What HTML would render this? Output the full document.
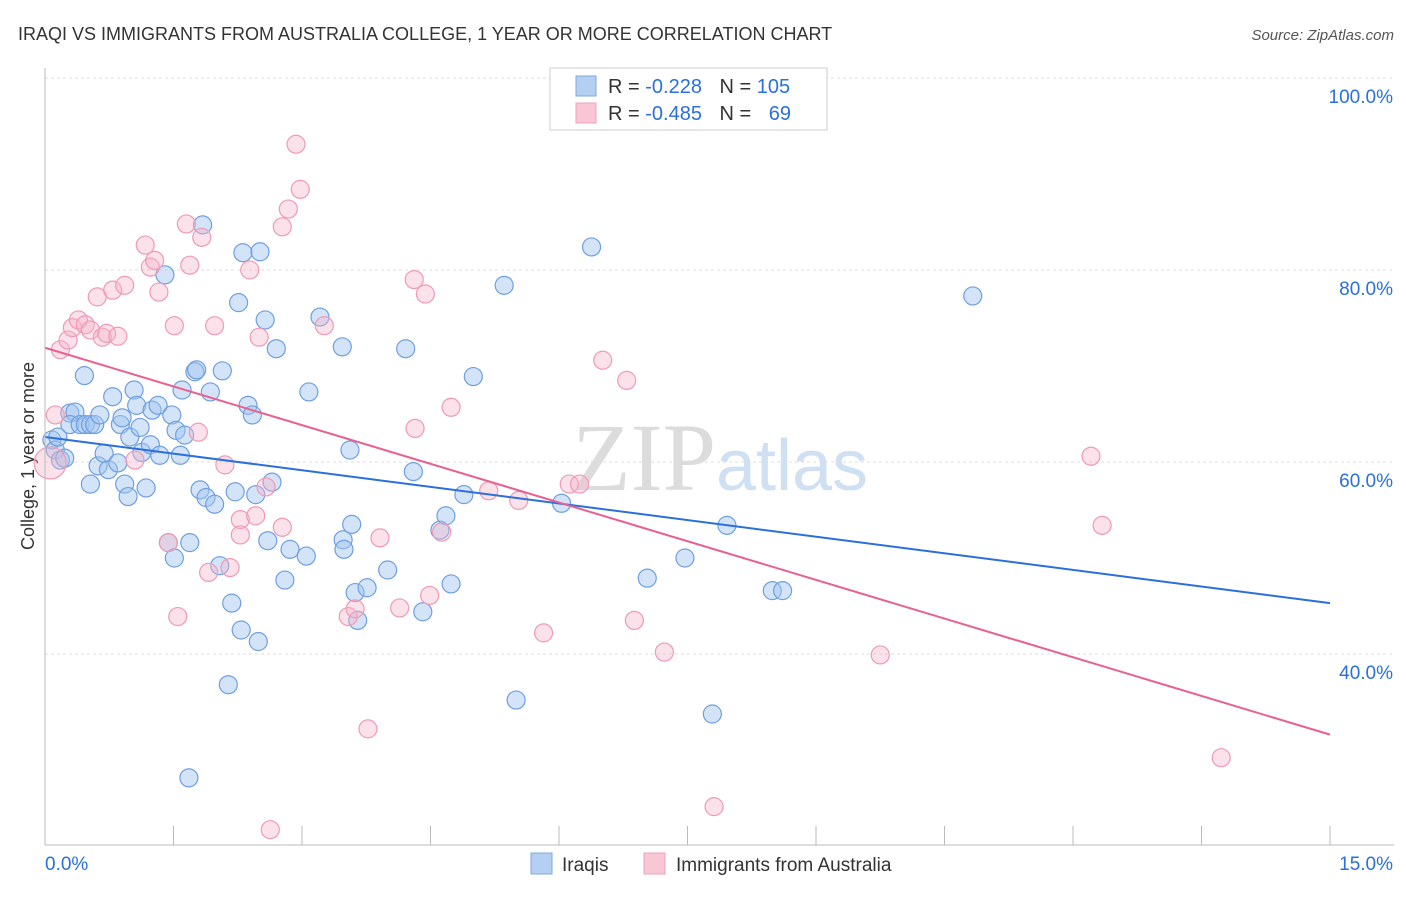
<!DOCTYPE html>
<html><head><meta charset="utf-8"><style>
body{margin:0;background:#fff;font-family:"Liberation Sans",sans-serif;}
svg text{font-family:"Liberation Sans",sans-serif;}
</style></head><body>
<svg id="chart" width="1406" height="892">
<text x="18" y="40" font-size="18" fill="#333">IRAQI VS IMMIGRANTS FROM AUSTRALIA COLLEGE, 1 YEAR OR MORE CORRELATION CHART</text>
<text x="1394" y="40" font-size="15" fill="#555" font-style="italic" text-anchor="end">Source: ZipAtlas.com</text>
<text transform="translate(34,456) rotate(-90)" font-size="18" fill="#333" text-anchor="middle">College, 1 year or more</text>
<g id="grid"></g>
<text x="720" y="490" font-size="96" fill="#e4e4e4" text-anchor="middle" font-family="Liberation Serif"><tspan fill="#dcdcdc" font-family="Liberation Serif">ZIP</tspan><tspan fill="#cfe0f3" font-family="Liberation Sans" font-size="72">atlas</tspan></text>
<g id="pts"></g>
<g id="lines"></g>
<g id="axes"></g>
<g>
<rect x="550" y="68" width="277" height="62" fill="#fff" stroke="#ccc"/>
<rect x="576" y="76" width="20" height="20" fill="#b5cff2" stroke="#7ea8e0"/>
<rect x="576" y="103" width="20" height="20" fill="#f9c6d6" stroke="#eea0b9"/>
<text x="608" y="93" font-size="20" fill="#333">R = <tspan fill="#2a6fdb">-0.228</tspan>  <tspan dx="12">N = </tspan><tspan fill="#2a6fdb">105</tspan></text>
<text x="608" y="120" font-size="20" fill="#333">R = <tspan fill="#2a6fdb">-0.485</tspan>  <tspan dx="12">N = </tspan><tspan fill="#2a6fdb" dx="12">69</tspan></text>
</g>
<g>
<rect x="531" y="853" width="21" height="21" fill="#b5cff2" stroke="#7ea8e0"/>
<text x="562" y="871" font-size="19" fill="#333">Iraqis</text>
<rect x="644" y="853" width="21" height="21" fill="#f9c6d6" stroke="#eea0b9"/>
<text x="676" y="871" font-size="19" fill="#333">Immigrants from Australia</text>
</g>
</svg>
<script>
const blueX=[0.08,0.12,0.18,0.15,0.23,0.29,0.35,0.29,0.41,0.47,0.53,0.58,0.46,0.53,0.62,0.64,0.69,0.74,0.79,0.85,0.88,0.90,0.93,0.97,0.99,1.04,1.07,1.11,1.13,1.18,1.23,1.25,1.32,1.34,1.40,1.44,1.48,1.51,1.53,1.58,1.60,1.63,1.69,1.75,1.77,1.81,1.84,1.88,1.93,1.98,2.04,2.07,2.14,2.18,2.22,2.26,2.29,2.31,2.37,2.42,2.46,2.49,2.51,2.57,2.60,2.65,2.70,2.80,2.86,3.05,3.08,3.21,3.47,3.48,3.49,3.56,3.58,3.62,3.65,3.76,4.00,4.21,4.30,4.41,4.61,4.68,4.74,5.00,4.89,5.36,5.50,6.03,6.38,7.03,7.47,7.79,7.96,8.49,8.61,10.83,1.68];
const blueY=[62.3,61.25,60.2,62.6,60.4,65.1,65.2,63.9,63.9,63.9,63.9,63.9,69.0,57.7,59.6,64.9,60.9,59.2,66.8,59.9,63.9,64.6,57.7,56.4,62.6,67.5,65.9,63.6,61.0,57.3,61.8,65.4,65.9,60.7,79.5,51.6,64.9,50.0,63.3,60.7,67.5,62.8,51.6,69.4,69.6,57.1,84.7,56.3,67.3,55.6,49.2,69.5,36.8,45.3,56.9,76.6,42.5,81.8,65.9,64.9,56.6,41.3,81.9,74.8,51.8,57.9,71.8,47.7,50.9,50.2,67.3,75.1,72.0,51.9,50.9,61.25,53.5,46.4,43.5,46.9,48.75,71.8,59.0,44.4,52.9,54.4,47.3,68.9,56.6,78.4,35.2,55.7,82.4,47.9,50.0,33.75,53.4,46.6,46.6,77.3,27.1];
const pinkX=[0.06,0.12,0.18,0.27,0.32,0.39,0.47,0.53,0.61,0.67,0.72,0.79,0.85,0.93,1.05,1.17,1.23,1.28,1.33,1.44,1.51,1.55,1.65,1.69,1.79,1.83,1.91,1.98,2.10,2.16,2.28,2.28,2.39,2.46,2.50,2.58,2.63,2.77,2.77,2.84,2.93,2.98,3.26,3.54,3.62,3.77,3.91,4.14,4.31,4.32,4.44,4.49,4.63,4.74,5.18,5.53,5.82,6.12,6.24,6.51,6.79,6.88,7.23,7.81,9.75,12.21,12.34,13.73];
const pinkY=[59.9,64.9,71.7,72.7,74.0,74.8,74.3,73.75,77.2,73.0,73.4,77.9,73.1,78.4,60.2,82.6,80.3,81.0,77.7,51.6,74.2,43.9,84.8,80.5,63.1,83.4,48.5,74.2,59.7,49.0,54.0,52.4,80.0,54.4,73.0,57.4,21.7,84.5,53.2,86.35,93.1,88.4,74.2,43.9,44.7,32.2,52.1,44.8,79.0,63.5,77.5,46.1,52.7,65.7,57.0,56.0,42.2,57.7,57.7,70.6,68.5,43.5,40.2,24.1,39.9,60.6,53.4,29.2];
const blueTrend=[62.6,45.3];
const pinkTrend=[71.9,31.6];
const xTicks=[0,1.5,3,4.5,6,7.5,9,10.5,12,13.5,15];
const yTicks=[40,60,80,100];
const yTickLabels=["40.0%","60.0%","80.0%","100.0%"];
const NS="http://www.w3.org/2000/svg";
const sx=v=>45+v/15*1285;
const sy=v=>78+(100-v)/20*192;
function mk(tag,attrs,parent){const e=document.createElementNS(NS,tag);for(const k in attrs)e.setAttribute(k,attrs[k]);parent.appendChild(e);return e;}
const grid=document.getElementById('grid'),axes=document.getElementById('axes'),pts=document.getElementById('pts'),lines=document.getElementById('lines');
yTicks.forEach((t,i)=>{
 const l=mk('line',{x1:45,x2:1394,y1:sy(t),y2:sy(t),stroke:'#ddd','stroke-dasharray':'3,3'},grid);
 
 
 const tx=mk('text',{x:1393,y:sy(t)+25,'font-size':19,fill:'#2a6fdb','text-anchor':'end'},axes);
 tx.textContent=yTickLabels[i];
 
 
});
const ya=mk('line',{x1:45,x2:45,y1:68,y2:845,stroke:'#bbb'},axes);


const xa=mk('line',{x1:45,x2:1394,y1:845,y2:845,stroke:'#bbb'},axes);


xTicks.forEach(t=>{
 const l=mk('line',{x1:sx(t),x2:sx(t),y1:826,y2:845,stroke:'#bbb'},axes);
 
 
});
const xl0=mk('text',{x:45,y:870,'font-size':19,fill:'#2a6fdb'},axes);xl0.textContent='0.0%';


const xl1=mk('text',{x:1393,y:870,'font-size':19,fill:'#2a6fdb','text-anchor':'end'},axes);xl1.textContent='15.0%';


function dots(X,Y,fill,stroke,name,big){
 X.forEach((x,i)=>{
  const c=mk('circle',{cx:sx(x),cy:sy(Y[i]),r:(big&&i===0)?16:9,fill:fill,stroke:stroke,'stroke-width':1.2},pts);
  
  
 });
}
dots(blueX,blueY,'rgba(160,196,240,0.45)','#6f9fe0','iraqi-point',false);
dots(pinkX,pinkY,'rgba(246,180,200,0.40)','#f09ab5','australia-point',true);
const bl=mk('line',{x1:sx(0),y1:sy(blueTrend[0]),x2:sx(15),y2:sy(blueTrend[1]),stroke:'#2a6fdb','stroke-width':2},lines);


const pl=mk('line',{x1:sx(0),y1:sy(pinkTrend[0]),x2:sx(15),y2:sy(pinkTrend[1]),stroke:'#e8608f','stroke-width':2},lines);


</script>
</body></html>
